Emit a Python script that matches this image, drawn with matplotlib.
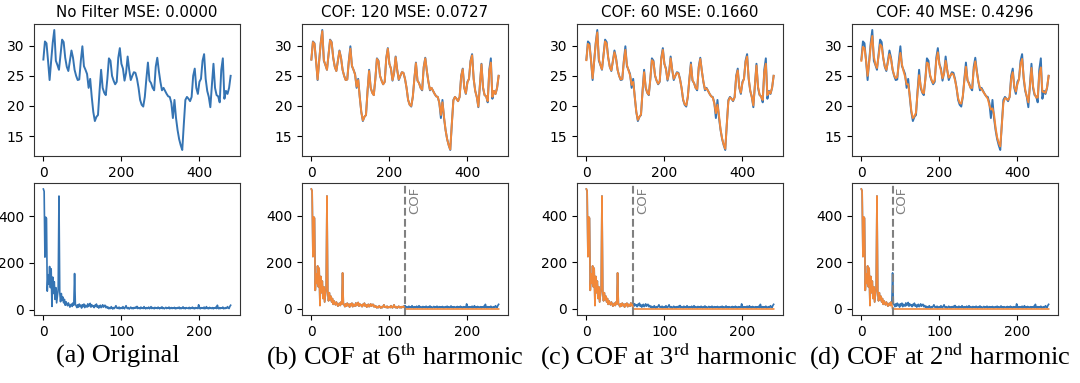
import numpy as np
import matplotlib.pyplot as plt

plt.rcParams['mathtext.fontset'] = 'stix'

# original series (read every 4 steps) and the low-pass filtered versions
temp = [27.7, 30.7, 30.4, 27.5, 24.3, 27.5, 30.5, 32.6, 27.5, 26.8,
        26.0, 28.5, 31.0, 30.6, 28.0, 26.5, 25.8, 27.5, 29.2, 28.0,
        26.0, 25.0, 24.3, 24.4, 27.5, 29.9, 26.6, 26.0, 25.3, 23.0,
        24.5, 21.5, 19.0, 17.5, 18.2, 18.5, 22.5, 26.0, 23.0, 22.2,
        21.8, 24.5, 27.9, 27.5, 25.0, 24.2, 23.6, 24.0, 28.0, 29.6,
        27.0, 26.2, 24.2, 25.5, 28.2, 26.0, 24.3, 25.0, 25.6, 25.5,
        24.5, 23.0, 21.0, 20.2, 19.9, 21.5, 24.5, 27.2, 24.2, 23.8,
        23.0, 22.6, 26.5, 28.0, 25.8, 24.0, 22.6, 23.0, 22.5, 22.0,
        21.6, 21.5, 20.5, 18.0, 21.0, 18.0, 16.0, 14.5, 13.5, 12.7,
        17.0, 21.0, 21.5, 21.2, 20.8, 21.5, 25.0, 26.2, 23.0, 22.0,
        24.0, 24.5, 27.5, 28.6, 24.5, 22.5, 21.5, 19.8, 23.5, 27.0,
        23.0, 21.8, 21.6, 20.6, 26.0, 27.9, 21.2, 22.5, 22.0, 23.0,
        25.0]

filt_120 = [27.7, 30.6, 30.3, 27.5, 24.4, 27.5, 30.4, 32.4, 27.6, 26.8,
            26.0, 28.5, 30.9, 30.5, 28.0, 26.5, 25.8, 27.5, 29.1, 28.0,
            26.0, 25.0, 24.3, 24.4, 27.4, 29.5, 26.7, 26.0, 25.2, 23.2,
            24.3, 21.5, 19.0, 17.6, 18.2, 18.5, 22.5, 25.8, 23.1, 22.2,
            21.8, 24.5, 27.8, 27.4, 25.0, 24.2, 23.6, 24.0, 27.9, 29.5,
            27.0, 26.2, 24.3, 25.5, 28.1, 26.0, 24.4, 25.0, 25.6, 25.5,
            24.5, 23.0, 21.0, 20.2, 20.0, 21.5, 24.5, 27.1, 24.2, 23.8,
            23.0, 22.7, 26.4, 27.9, 25.8, 24.0, 22.7, 23.0, 22.5, 22.0,
            21.6, 21.5, 20.5, 18.5, 20.6, 18.2, 16.0, 14.5, 13.5, 12.8,
            17.0, 20.9, 21.5, 21.2, 20.8, 21.5, 24.9, 26.1, 23.0, 22.1,
            23.9, 24.5, 27.4, 28.4, 24.5, 22.5, 21.5, 19.9, 23.5, 26.9,
            23.1, 21.8, 21.6, 20.8, 25.8, 27.2, 21.5, 22.5, 22.0, 23.0,
            25.0]

filt_60 = [27.6, 30.3, 30.0, 27.6, 24.6, 27.4, 30.3, 32.2, 27.8, 26.8,
           26.1, 28.4, 30.7, 30.3, 28.0, 26.5, 25.9, 27.4, 28.9, 27.9,
           26.0, 25.0, 24.4, 24.5, 27.3, 29.3, 26.8, 25.9, 25.1, 23.5,
           24.0, 21.6, 19.0, 17.7, 18.2, 18.6, 22.4, 25.6, 23.2, 22.2,
           21.9, 24.5, 27.6, 27.3, 25.1, 24.2, 23.7, 24.1, 27.8, 29.3,
           27.0, 26.1, 24.4, 25.5, 27.9, 26.0, 24.5, 25.0, 25.5, 25.4,
           24.4, 23.0, 21.1, 20.3, 20.1, 21.5, 24.4, 26.9, 24.3, 23.8,
           23.0, 22.8, 26.3, 27.8, 25.8, 24.0, 22.8, 22.9, 22.5, 22.0,
           21.6, 21.4, 20.4, 18.8, 20.2, 18.4, 16.1, 14.6, 13.6, 12.9,
           17.0, 20.8, 21.4, 21.2, 20.9, 21.4, 24.8, 25.9, 23.1, 22.2,
           23.8, 24.5, 27.3, 28.2, 24.6, 22.6, 21.5, 20.1, 23.4, 26.7,
           23.2, 21.9, 21.5, 21.0, 25.6, 27.0, 21.8, 22.4, 22.1, 23.0,
           25.0]

filt_40 = [27.5, 29.8, 29.6, 27.6, 25.0, 27.2, 30.0, 31.6, 28.2, 26.9,
           26.3, 28.2, 30.2, 29.9, 28.0, 26.6, 26.0, 27.2, 28.6, 27.8,
           26.1, 25.1, 24.6, 24.8, 27.0, 28.8, 26.9, 25.8, 24.9, 23.6,
           23.6, 21.8, 19.2, 18.0, 18.3, 18.9, 22.2, 25.1, 23.4, 22.3,
           22.1, 24.4, 27.2, 27.0, 25.2, 24.3, 23.8, 24.3, 27.5, 28.9,
           26.9, 25.9, 24.6, 25.4, 27.5, 26.0, 24.7, 25.0, 25.4, 25.2,
           24.3, 23.0, 21.3, 20.5, 20.4, 21.6, 24.2, 26.5, 24.4, 23.6,
           23.0, 23.0, 26.0, 27.4, 25.6, 24.0, 23.0, 22.8, 22.4, 22.0,
           21.6, 21.2, 20.2, 19.4, 19.6, 18.6, 16.4, 14.8, 13.9, 13.3,
           16.8, 20.5, 21.3, 21.2, 21.0, 21.5, 24.5, 25.6, 23.3, 22.4,
           23.6, 24.4, 27.0, 27.8, 24.8, 22.7, 21.6, 20.6, 23.2, 26.3,
           23.3, 22.0, 21.4, 21.4, 25.2, 26.4, 22.4, 22.3, 22.2, 23.1,
           25.0]

# amplitude spectrum, index 0..240
spectrum = [515, 505, 225, 395, 390, 80, 150, 110, 185, 95,
            175, 15, 140, 70, 120, 45, 95, 30, 60, 90,
            485, 75, 35, 70, 40, 55, 30, 45, 20, 35,
            25, 18, 30, 22, 12, 20, 25, 15, 30, 20,
            155, 25, 18, 10, 22, 12, 25, 15, 20, 8,
            22, 15, 25, 10, 20, 18, 12, 26, 15, 20,
            28, 12, 22, 15, 18, 10, 20, 15, 25, 12,
            18, 8, 15, 20, 10, 14, 22, 12, 18, 20,
            10, 15, 8, 12, 5, 10, 6, 14, 8, 4,
            10, 6, 12, 18, 8, 10, 6, 12, 5, 8,
            10, 6, 14, 8, 5, 12, 18, 8, 6, 10,
            4, 8, 12, 6, 9, 5, 10, 7, 12, 8,
            15, 6, 10, 8, 5, 12, 7, 9, 6, 14,
            8, 5, 10, 6, 8, 12, 5, 9, 14, 6,
            10, 8, 5, 11, 7, 9, 6, 12, 8, 5,
            10, 7, 13, 6, 9, 5, 8, 11, 6, 9,
            7, 12, 5, 8, 10, 6, 9, 7, 11, 5,
            8, 6, 10, 7, 12, 5, 9, 6, 8, 13,
            6, 9, 5, 10, 7, 8, 6, 11, 5, 9,
            7, 12, 6, 8, 5, 10, 7, 9, 6, 22,
            8, 5, 10, 7, 9, 6, 12, 5, 8, 14,
            6, 9, 5, 11, 7, 8, 6, 10, 5, 9,
            7, 12, 6, 20, 8, 5, 10, 6, 9, 7,
            12, 5, 8, 6, 10, 7, 14, 9, 6, 15,
            20]

cutoffs = [None, 120, 60, 40]
filtered = [None, filt_120, filt_60, filt_40]
titles = ["No Filter MSE: 0.0000", "COF: 120 MSE: 0.0727",
          "COF: 60 MSE: 0.1660", "COF: 40 MSE: 0.4296"]
captions = ["(a) Original", "(b) COF at 6$^{\\mathrm{th}}$ harmonic",
            "(c) COF at 3$^{\\mathrm{rd}}$ harmonic",
            "(d) COF at 2$^{\\mathrm{nd}}$ harmonic"]

blue = '#3574b3'
orange = '#f1883a'

t = np.arange(len(temp)) * 4
freq = np.arange(len(spectrum))
spec = np.array(spectrum, dtype=float)

fig = plt.figure(figsize=(10.8, 3.83), dpi=100)

lefts = [34, 302, 577, 852]
caption_x = [118, 395, 668, 940]
W, H = 1080, 383

for i in range(4):
    l = lefts[i] / W
    w = 206 / W
    ax1 = fig.add_axes([l, 1 - 156 / H, w, 132 / H])
    ax2 = fig.add_axes([l, 1 - 315 / H, w, 132 / H])

    ax1.plot(t, temp, color=blue, lw=1.4)
    if filtered[i] is not None:
        ax1.plot(t, filtered[i], color=orange, lw=1.4)
    ax1.set_title(titles[i], fontsize=10.8, pad=5)
    ax1.set_xticks([0, 200, 400])
    ax1.set_yticks([15, 20, 25, 30])

    ax2.plot(freq, spec, color=blue, lw=1.2)
    cof = cutoffs[i]
    if cof is not None:
        cut = np.where(freq < cof, spec, 0)
        ax2.plot(freq, cut, color=orange, lw=1.2)
        ax2.axvline(cof, color='gray', ls='--', lw=1.5)
        ax2.text(cof + 4, 0.97, 'COF', rotation=90, color='gray',
                 fontsize=9.5, va='top', ha='left',
                 transform=ax2.get_xaxis_transform())
    ax2.set_xticks([0, 100, 200])
    ax2.set_yticks([0, 200, 400])

    for ax in (ax1, ax2):
        ax.tick_params(labelsize=10)
        for s in ax.spines.values():
            s.set_color('#333333')

    fig.text(caption_x[i] / W, 1 - 356 / H, captions[i],
             fontsize=19, family='Liberation Serif', ha='center', va='center')

fig.savefig('out.png', dpi=100)
